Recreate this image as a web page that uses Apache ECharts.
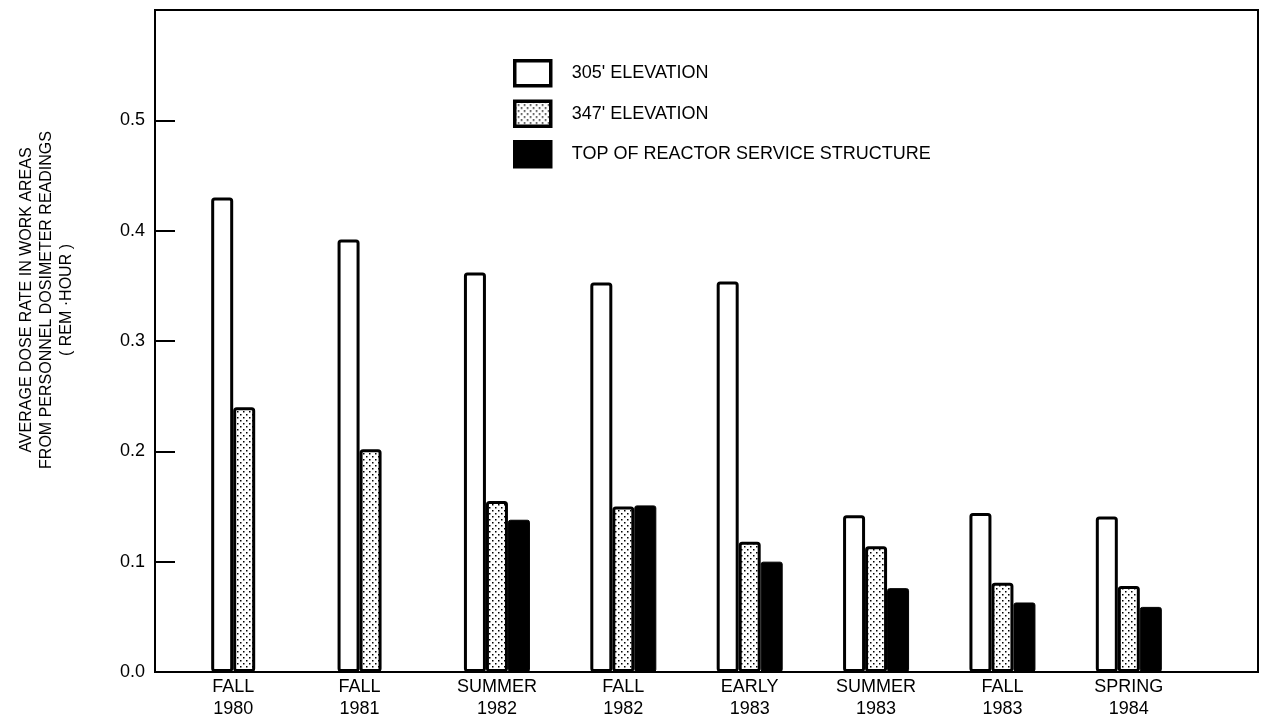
<!DOCTYPE html>
<html>
<head>
<meta charset="utf-8">
<script src="https://cdn.jsdelivr.net/npm/echarts@6/dist/echarts.min.js"></script>
<style>
  html, body { margin: 0; padding: 0; background: #fff; }
  #main { width: 1261px; height: 720px; }
</style>
</head>
<body>
<div id="main"></div>
<script>
// categories along the bottom
const categories = ['FALL\n1980', 'FALL\n1981', 'SUMMER\n1982', 'FALL\n1982', 'EARLY\n1983', 'SUMMER\n1983', 'FALL\n1983', 'SPRING\n1984'];
// average dose rate (rem/hour)
const elev305 = [0.430, 0.392, 0.362, 0.353, 0.354, 0.142, 0.144, 0.141];
const elev347 = [0.240, 0.202, 0.155, 0.150, 0.118, 0.114, 0.081, 0.078];
const topRss  = [null, null, 0.138, 0.151, 0.100, 0.076, 0.063, 0.059];
const seriesNames = ["305' ELEVATION", "347' ELEVATION", 'TOP OF REACTOR SERVICE STRUCTURE'];
const yTitle = 'AVERAGE DOSE RATE IN WORK AREAS\nFROM PERSONNEL DOSIMETER READINGS\n( REM \u00b7HOUR )';

const FONT = '"Liberation Sans", Arial, Helvetica, sans-serif';

// stipple pattern for the 347' bars
function makeDots () {
  let c = document.createElement('canvas');
  c.width = 6; c.height = 6;
  let g = c.getContext('2d');
  g.fillStyle = '#fff';
  g.fillRect(0, 0, 6, 6);
  g.fillStyle = '#000';
  g.fillRect(0, 0, 1.5, 1.5);
  g.fillRect(3, 3, 1.5, 1.5);
  return c;
}
const dots = makeDots();

// groups with only two bars get their label centred under the pair
let xData = categories.map(function (c, i) {
  if (topRss[i] == null) {
    return { value: c, textStyle: { padding: [0, 22, 0, 0] } };
  }
  return c;
});

let chart = echarts.init(document.getElementById('main'), null, { renderer: 'canvas' });

let option = {
  backgroundColor: '#fff',
  animation: false,
  textStyle: { fontFamily: FONT, color: '#000' },
  grid: [
    // bars
    { left: 181, right: 69, top: 10, bottom: 48, outerBoundsMode: 'none', containLabel: false },
    // frame + value axis
    { left: 155, right: 3, top: 10, bottom: 48, outerBoundsMode: 'none', containLabel: false,
      show: true, borderColor: '#000', borderWidth: 2, backgroundColor: 'transparent' }
  ],
  legend: {
    orient: 'vertical',
    left: 513,
    top: 59,
    icon: 'rect',
    itemWidth: 36,
    itemHeight: 25,
    itemGap: 12,
    padding: 0,
    itemStyle: { borderWidth: 3.5 },
    textStyle: { fontSize: 18, color: '#000', fontFamily: FONT, padding: [0, 0, 0, 16] },
    data: seriesNames
  },
  xAxis: [
    {
      type: 'category',
      gridIndex: 0,
      data: xData,
      axisLine: { show: false },
      axisTick: { show: false },
      axisLabel: { color: '#000', fontSize: 18, lineHeight: 22, margin: 4, fontFamily: FONT, interval: 0 }
    },
    { type: 'value', gridIndex: 1, show: false }
  ],
  yAxis: [
    { type: 'value', gridIndex: 0, min: 0, max: 0.6, interval: 0.1, show: false },
    {
      type: 'value',
      gridIndex: 1,
      min: 0,
      max: 0.6,
      interval: 0.1,
      axisLine: { show: true, lineStyle: { color: '#000', width: 2 } },
      axisTick: { show: true, inside: true, length: 20, lineStyle: { color: '#000', width: 2 } },
      splitLine: { show: false },
      axisLabel: {
        color: '#000', fontSize: 18, margin: 10, fontFamily: FONT,
        formatter: function (v) { return v >= 0.6 ? '' : v.toFixed(1); }
      }
    }
  ],
  graphic: [
    {
      type: 'text',
      x: 47,
      y: 300,
      rotation: Math.PI / 2,
      style: {
        text: yTitle,
        font: '16px ' + FONT,
        fill: '#000',
        align: 'center',
        verticalAlign: 'middle',
        lineHeight: 20
      }
    }
  ],
  series: [
    {
      name: seriesNames[0],
      type: 'bar',
      xAxisIndex: 0, yAxisIndex: 0,
      barWidth: 22,
      barGap: '0%',
      itemStyle: { color: '#fff', borderColor: '#000', borderWidth: 3, borderRadius: 2 },
      data: elev305
    },
    {
      name: seriesNames[1],
      type: 'bar',
      xAxisIndex: 0, yAxisIndex: 0,
      barWidth: 22,
      barGap: '0%',
      itemStyle: { color: { image: dots, repeat: 'repeat' }, borderColor: '#000', borderWidth: 3, borderRadius: 2 },
      data: elev347
    },
    {
      name: seriesNames[2],
      type: 'bar',
      xAxisIndex: 0, yAxisIndex: 0,
      barWidth: 22,
      barGap: '0%',
      itemStyle: { color: '#000', borderColor: '#000', borderWidth: 1, borderRadius: 2 },
      data: topRss
    }
  ]
};

chart.setOption(option);
</script>
</body>
</html>
